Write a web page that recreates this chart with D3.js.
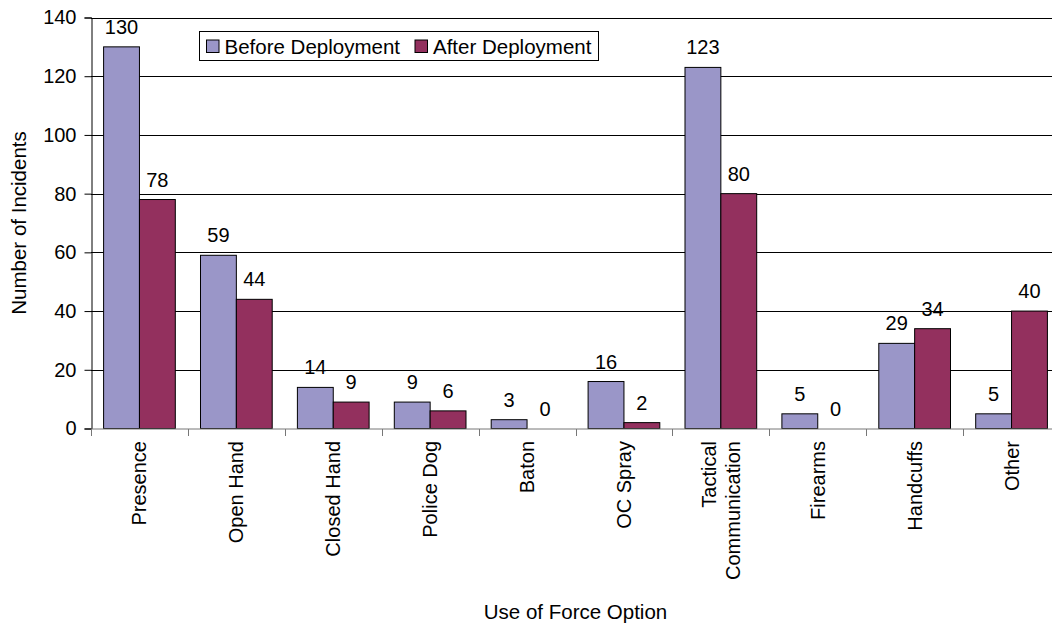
<!DOCTYPE html>
<html>
<head>
<meta charset="utf-8">
<script src="https://cdn.jsdelivr.net/npm/d3@7"></script>
<style>
    body { margin: 0; background: #fff; }
    svg text { font-family: "Liberation Sans", Arial, sans-serif; fill: #000; }
</style>
</head>
<body>
<svg id="chart" width="1052" height="626"></svg>
<script>
const CATEGORIES = ['Presence', 'Open Hand', 'Closed Hand', 'Police Dog', 'Baton',
                    'OC Spray', 'Tactical Communication', 'Firearms', 'Handcuffs', 'Other'];
const SERIES     = ['Before Deployment', 'After Deployment'];
const BEFORE     = [130, 59, 14, 9, 3, 16, 123, 5, 29, 5];
const AFTER      = [78, 44, 9, 6, 0, 2, 80, 0, 34, 40];
const Y_TICKS    = [0, 20, 40, 60, 80, 100, 120, 140];

const COLORS     = ['#9a96c8', '#93305e'];
const FONT_SIZE  = 20;

// plot area runs past the right edge of the canvas, as in the original
const LEFT   = 91;
const RIGHT  = 1060;
const TOP    = 17.5;
const BOTTOM = 428.5;

const svg = d3.select('#chart');

const x = d3.scaleBand()
    .domain(CATEGORIES)
    .range([LEFT, RIGHT])
    .paddingInner(0.26)
    .paddingOuter(0.13);

const xs = d3.scaleBand()
    .domain(SERIES)
    .range([0, x.bandwidth()]);

const y = d3.scaleLinear()
    .domain([0, 140])
    .range([BOTTOM, TOP]);

// gridlines
svg.append('g')
    .selectAll('line')
    .data(Y_TICKS.filter(d => d > 0))
    .join('line')
    .attr('x1', LEFT)
    .attr('x2', RIGHT)
    .attr('y1', d => Math.round(y(d)) + 0.5)
    .attr('y2', d => Math.round(y(d)) + 0.5)
    .attr('stroke', '#000')
    .attr('stroke-width', 1);

// bars
const rows = CATEGORIES.map((c, i) => ({ cat: c, values: [BEFORE[i], AFTER[i]] }));

const groups = svg.append('g')
    .selectAll('g')
    .data(rows)
    .join('g')
    .attr('transform', d => `translate(${x(d.cat)},0)`);

groups.selectAll('rect')
    .data(d => d.values.map((v, j) => ({ key: SERIES[j], v, j })))
    .join('rect')
    .filter(d => d.v > 0)
    .attr('x', d => xs(d.key))
    .attr('y', d => y(d.v))
    .attr('width', xs.bandwidth())
    .attr('height', d => y(0) - y(d.v))
    .attr('fill', d => COLORS[d.j])
    .attr('stroke', '#000')
    .attr('stroke-width', 1);

// value labels
groups.selectAll('text')
    .data(d => d.values.map((v, j) => ({ key: SERIES[j], v })))
    .join('text')
    .attr('x', d => xs(d.key) + xs.bandwidth() / 2)
    .attr('y', d => y(d.v) - 13)
    .attr('text-anchor', 'middle')
    .attr('font-size', FONT_SIZE)
    .text(d => d.v);

// y axis
const yAxis = svg.append('g')
    .attr('transform', `translate(${LEFT + 0.5},0)`)
    .call(d3.axisLeft(y).tickValues(Y_TICKS).tickSize(7).tickPadding(8));
yAxis.select('.domain').attr('stroke', '#000');
yAxis.selectAll('.tick line').attr('stroke', '#000');
yAxis.selectAll('.tick text')
    .attr('font-size', FONT_SIZE)
    .attr('font-family', '"Liberation Sans", Arial, sans-serif')
    .attr('fill', '#000');

// x axis: ticks between categories
const xAxis = svg.append('g')
    .attr('transform', `translate(0,${BOTTOM + 0.5})`);
xAxis.append('line')
    .attr('x1', LEFT)
    .attr('x2', RIGHT)
    .attr('stroke', '#777');
const step = x.step();
xAxis.selectAll('line.tk')
    .data(d3.range(CATEGORIES.length + 1))
    .join('line')
    .attr('class', 'tk')
    .attr('x1', i => Math.round(LEFT + i * step) + 0.5)
    .attr('x2', i => Math.round(LEFT + i * step) + 0.5)
    .attr('y1', 0)
    .attr('y2', 7)
    .attr('stroke', '#777');

// rotated category labels
const catLabels = svg.append('g')
    .selectAll('text')
    .data(CATEGORIES)
    .join('text')
    .attr('font-size', FONT_SIZE)
    .attr('text-anchor', 'end')
    .attr('transform', d => `translate(${x(d) + x.bandwidth() / 2},441) rotate(-90)`);

catLabels.each(function (d) {
    const words = d === 'Tactical Communication' ? ['Tactical', 'Communication'] : [d];
    const t = d3.select(this);
    const n = words.length;
    words.forEach((w, k) => {
        t.append('tspan')
            .attr('x', 0)
            .attr('y', (k - (n - 1) / 2) * 24 + 7)
            .text(w);
    });
});

// axis titles
svg.append('text')
    .attr('transform', `translate(26,${(TOP + BOTTOM) / 2}) rotate(-90)`)
    .attr('text-anchor', 'middle')
    .attr('font-size', 20.5)
    .text('Number of Incidents');

svg.append('text')
    .attr('x', (LEFT + RIGHT) / 2)
    .attr('y', 619)
    .attr('text-anchor', 'middle')
    .attr('font-size', 20.5)
    .text('Use of Force Option');

// legend
const legend = svg.append('g').attr('transform', 'translate(199.5,31.5)');
legend.append('rect')
    .attr('width', 399)
    .attr('height', 29)
    .attr('fill', '#fff')
    .attr('stroke', '#000');

const legendX = [7, 215.5];
SERIES.forEach((s, j) => {
    const item = legend.append('g').attr('transform', `translate(${legendX[j]},0)`);
    item.append('rect')
        .attr('x', 0)
        .attr('y', 8.5)
        .attr('width', 12.5)
        .attr('height', 12.5)
        .attr('fill', COLORS[j])
        .attr('stroke', '#000');
    item.append('text')
        .attr('x', 18)
        .attr('y', 22)
        .attr('font-size', 20.5)
        .text(s);
});
</script>
</body>
</html>
